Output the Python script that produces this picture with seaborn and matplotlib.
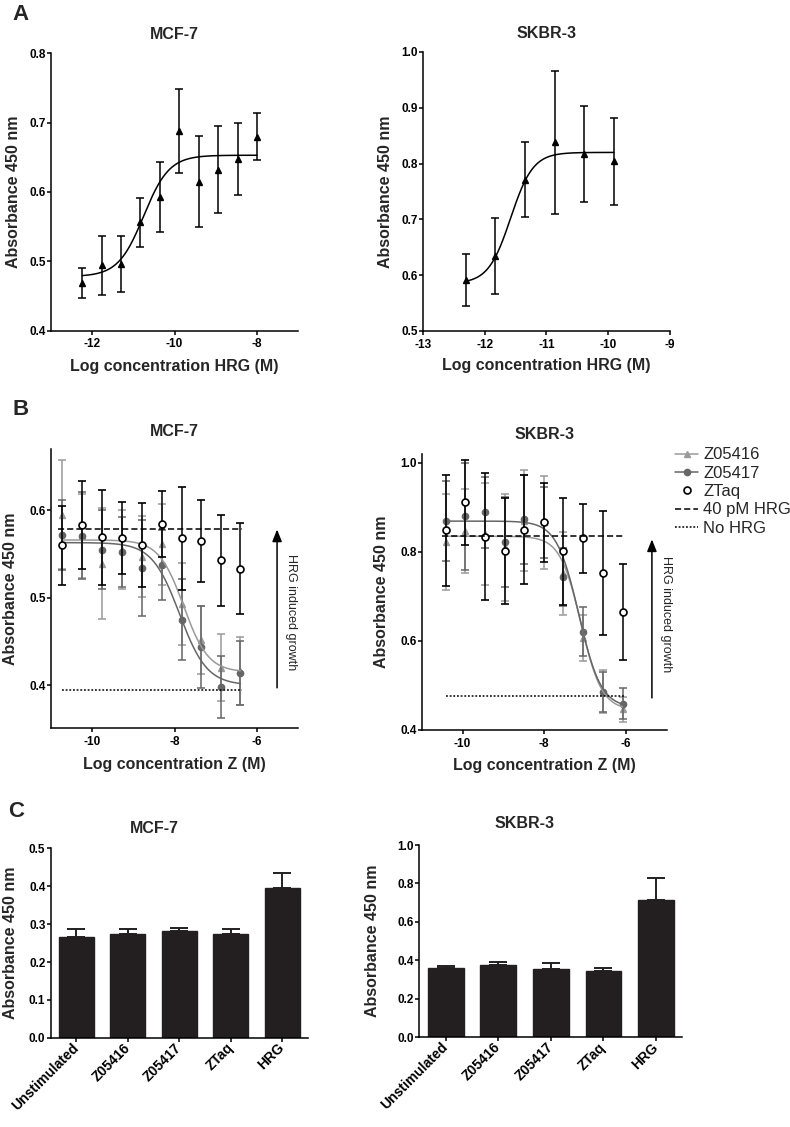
import numpy as np
import pandas as pd
import matplotlib
matplotlib.use("Agg")
import matplotlib.pyplot as plt
from matplotlib.lines import Line2D
from matplotlib.ticker import FormatStrFormatter
import seaborn as sns

# --- values ---
# Panel A: HRG dose response (log M), mean and SEM
a_mcf_logc = [-12.24, -11.77, -11.30, -10.83, -10.36, -9.88, -9.41, -8.94, -8.47, -8.00]
a_mcf_mean = [0.469, 0.494, 0.496, 0.556, 0.593, 0.688, 0.615, 0.632, 0.647, 0.680]
a_mcf_sem = [0.022, 0.042, 0.040, 0.035, 0.050, 0.061, 0.066, 0.063, 0.052, 0.034]
a_mcf_fit = [0.478, 0.653, -10.75, 1.4]          # bottom, top, logEC50, hill

a_sk_logc = [-12.31, -11.83, -11.35, -10.87, -10.39, -9.91]
a_sk_mean = [0.591, 0.634, 0.771, 0.838, 0.818, 0.804]
a_sk_sem = [0.047, 0.068, 0.067, 0.128, 0.086, 0.078]
a_sk_fit = [0.585, 0.820, -11.58, 2.4]

# Panel B: inhibition by Z variants (log M)
b_mcf_logc = [-10.73, -10.24, -9.76, -9.27, -8.79, -8.31, -7.83, -7.35, -6.88, -6.40]
b_mcf_z16 = [0.595, 0.571, 0.539, 0.555, 0.547, 0.561, 0.493, 0.452, 0.420, 0.416]
b_mcf_z16_sem = [0.062, 0.048, 0.063, 0.045, 0.046, 0.046, 0.047, 0.039, 0.038, 0.039]
b_mcf_z17 = [0.572, 0.571, 0.555, 0.552, 0.534, 0.537, 0.475, 0.444, 0.398, 0.414]
b_mcf_z17_sem = [0.040, 0.050, 0.045, 0.040, 0.055, 0.040, 0.046, 0.047, 0.035, 0.037]
b_mcf_taq = [0.560, 0.583, 0.569, 0.568, 0.560, 0.584, 0.568, 0.565, 0.543, 0.533]
b_mcf_taq_sem = [0.045, 0.050, 0.054, 0.041, 0.048, 0.038, 0.059, 0.047, 0.052, 0.052]
b_mcf_z16_fit = [0.415, 0.566, -7.78, 1.45]
b_mcf_z17_fit = [0.400, 0.563, -7.88, 1.3]
b_mcf_hrg = 0.579
b_mcf_nohrg = 0.394

b_sk_logc = [-10.41, -9.94, -9.46, -8.97, -8.49, -8.01, -7.53, -7.04, -6.56, -6.08]
b_sk_z16 = [0.822, 0.847, 0.840, 0.810, 0.870, 0.866, 0.752, 0.607, 0.486, 0.446]
b_sk_z16_sem = [0.108, 0.095, 0.115, 0.120, 0.113, 0.104, 0.093, 0.052, 0.049, 0.028]
b_sk_z17 = [0.870, 0.880, 0.889, 0.822, 0.873, 0.866, 0.743, 0.621, 0.485, 0.459]
b_sk_z17_sem = [0.090, 0.120, 0.080, 0.100, 0.100, 0.080, 0.065, 0.055, 0.045, 0.035]
b_sk_taq = [0.848, 0.911, 0.834, 0.801, 0.850, 0.866, 0.801, 0.830, 0.752, 0.664]
b_sk_taq_sem = [0.124, 0.095, 0.143, 0.119, 0.122, 0.088, 0.120, 0.077, 0.139, 0.108]
b_sk_z16_fit = [0.445, 0.835, -7.10, 1.7]
b_sk_z17_fit = [0.450, 0.869, -7.15, 1.6]
b_sk_hrg = 0.835
b_sk_nohrg = 0.476

# Panel C: single-dose bars
c_groups = ["Unstimulated", "Z05416", "Z05417", "ZTaq", "HRG"]
c_mcf_mean = [0.267, 0.275, 0.283, 0.274, 0.395]
c_mcf_sem = [0.020, 0.012, 0.007, 0.013, 0.039]
c_sk_mean = [0.360, 0.376, 0.355, 0.343, 0.714]
c_sk_sem = [0.013, 0.014, 0.033, 0.019, 0.114]

LIGHT, DARK, BAR = "#9a9a9a", "#666666", "#231f20"

sns.set_theme(style="ticks", rc={
    "axes.linewidth": 1.1, "axes.edgecolor": "black",
    "xtick.color": "black", "ytick.color": "black",
    "xtick.major.width": 1.1, "ytick.major.width": 1.1,
    "xtick.major.size": 3, "ytick.major.size": 3,
    "xtick.major.pad": 2.5, "ytick.major.pad": 0.8,
    "xtick.labelsize": 8.5, "ytick.labelsize": 8.5,
    "axes.labelsize": 11.5, "axes.titlesize": 11.5,
    "axes.labelweight": "bold", "axes.titleweight": "bold",
    "axes.unicode_minus": False,
})
plt.rcParams["font.family"] = ["Liberation Sans", "DejaVu Sans"]
plt.rcParams["font.weight"] = "bold"


def sigmoid(x, p, rising=True):
    bottom, top, logec, h = p
    s = (logec - x) if rising else (x - logec)
    return bottom + (top - bottom) / (1 + 10 ** (s * h))


def curve(ax, logc, p, rising, color, z=2):
    xs = np.linspace(logc[0], logc[-1], 300)
    sns.lineplot(x=xs, y=sigmoid(xs, p, rising), ax=ax, color=color,
                 lw=1.1, zorder=z, estimator=None)


def points(ax, logc, mean, sem, color, marker, ms, z, **kw):
    ax.errorbar(logc, mean, yerr=sem, fmt=marker, color=color, ecolor=color,
                ms=ms, capsize=3, elinewidth=1.1, capthick=1.1, lw=0,
                zorder=z, **kw)


def style(ax, title, pad, ylab_x, xlab_y=None, xlabel=None):
    sns.despine(ax=ax)
    ax.set_title(title, pad=pad)
    ax.set_ylabel("Absorbance 450 nm")
    ax.yaxis.set_label_coords(ylab_x, 0.5)
    if xlabel:
        ax.set_xlabel(xlabel)
        ax.xaxis.set_label_coords(0.5, xlab_y)
    ax.yaxis.set_major_formatter(FormatStrFormatter("%.1f"))


fig = plt.figure(figsize=(7.9, 11.27), dpi=100)

# ---------- A ----------
ax = fig.add_axes([0.0646, 0.7066, 0.3127, 0.2461])
curve(ax, a_mcf_logc, a_mcf_fit, True, "black")
points(ax, a_mcf_logc, a_mcf_mean, a_mcf_sem, "black", "^", 5, 3)
ax.set(xlim=(-13, -7), ylim=(0.4, 0.8), xticks=[-12, -10, -8],
       yticks=[0.4, 0.5, 0.6, 0.7, 0.8])
style(ax, "MCF-7", 10.4, -0.123, -0.103, "Log concentration HRG (M)")

ax = fig.add_axes([0.5354, 0.7063, 0.3127, 0.2476])
curve(ax, a_sk_logc, a_sk_fit, True, "black")
points(ax, a_sk_logc, a_sk_mean, a_sk_sem, "black", "^", 5, 3)
ax.set(xlim=(-13, -9), ylim=(0.5, 1.0), xticks=[-13, -12, -11, -10, -9],
       yticks=[0.5, 0.6, 0.7, 0.8, 0.9, 1.0])
style(ax, "SKBR-3", 10.2, -0.12, -0.095, "Log concentration HRG (M)")

# ---------- B ----------
def panel_b(rect, logc, z16, z16s, z17, z17s, taq, taqs, f16, f17, hrg, nohrg,
            ylim, yticks, title, pad, ylab_x, xlab_y, arrow, text_xy):
    ax = fig.add_axes(rect)
    points(ax, logc, z16, z16s, LIGHT, "^", 4.5, 2)
    points(ax, logc, z17, z17s, DARK, "o", 4.5, 3)
    curve(ax, logc, f16, False, LIGHT, 4)
    curve(ax, logc, f17, False, DARK, 4)
    points(ax, logc, taq, taqs, "black", "o", 5, 5, mfc="white", mec="black",
           mew=1.2)
    ax.hlines(hrg, logc[0] - 0.1, logc[-1] + 0.05, colors="black", lw=1.1,
              linestyles=(0, (4, 2)), zorder=6)
    ax.hlines(nohrg, logc[0], logc[-1] + 0.05, colors="black", lw=1.1,
              linestyles=(0, (1.2, 1.2)), zorder=6)
    ax.annotate("", xy=(arrow[0], arrow[2]), xytext=(arrow[0], arrow[1]),
                arrowprops=dict(arrowstyle="-|>,head_length=0.6,head_width=0.24",
                                color="black", lw=1.1, mutation_scale=12,
                                shrinkA=0, shrinkB=0))
    ax.text(text_xy[0], text_xy[1], "HRG induced growth", rotation=-90,
            ha="center", va="center", fontsize=9, fontweight="normal")
    ax.set(xlim=(-11, -5), ylim=ylim, xticks=[-10, -8, -6], yticks=yticks)
    style(ax, title, pad, ylab_x, xlab_y, "Log concentration Z (M)")
    return ax


panel_b([0.0646, 0.354, 0.3127, 0.2476], b_mcf_logc, b_mcf_z16, b_mcf_z16_sem,
        b_mcf_z17, b_mcf_z17_sem, b_mcf_taq, b_mcf_taq_sem, b_mcf_z16_fit,
        b_mcf_z17_fit, b_mcf_hrg, b_mcf_nohrg, (0.351, 0.670), [0.4, 0.5, 0.6],
        "MCF-7", 9.5, -0.132, -0.105, (-5.51, 0.397, 0.578), (-5.16, 0.483))
panel_b([0.5338, 0.3523, 0.310, 0.2446], b_sk_logc, b_sk_z16, b_sk_z16_sem,
        b_sk_z17, b_sk_z17_sem, b_sk_taq, b_sk_taq_sem, b_sk_z16_fit,
        b_sk_z17_fit, b_sk_hrg, b_sk_nohrg, (0.4, 1.019), [0.4, 0.6, 0.8, 1.0],
        "SKBR-3", 11.2, -0.132, -0.100, (-5.36, 0.472, 0.828), (-5.02, 0.659))

handles = [
    Line2D([], [], color=LIGHT, lw=1.1, marker="^", ms=4.5),
    Line2D([], [], color=DARK, lw=1.1, marker="o", ms=4.5),
    Line2D([], [], ls="none", marker="o", ms=5, mfc="white", mec="black", mew=1.2),
    Line2D([], [], color="black", lw=1.1, ls=(0, (4, 2))),
    Line2D([], [], color="black", lw=1.1, ls=(0, (1.2, 1.2))),
]
fig.legend(handles, ["Z05416", "Z05417", "ZTaq", "40 pM HRG", "No HRG"],
           loc="upper left", bbox_to_anchor=(0.8544, 0.6030), frameon=False,
           prop={"weight": "normal", "size": 12}, handlelength=1.4,
           handletextpad=0.3, labelspacing=0.2, borderpad=0, borderaxespad=0)

# ---------- C ----------
def panel_c(rect, mean, sem, ylim, yticks, title, pad, ylab_x):
    ax = fig.add_axes(rect)
    df = pd.DataFrame({"group": c_groups, "value": mean})
    sns.barplot(data=df, x="group", y="value", color=BAR, saturation=1,
                width=0.68, errorbar=None, edgecolor=BAR, ax=ax)
    ax.errorbar(np.arange(len(c_groups)), mean, yerr=[np.zeros(len(sem)), sem],
                fmt="none", ecolor=BAR, elinewidth=1.4, capsize=6.8,
                capthick=1.4, zorder=3)
    ax.set(ylim=ylim, yticks=yticks, xlim=(-0.5, 4.5))
    ax.set_xlabel("")
    style(ax, "", 0, ylab_x)
    ax.set_title(title, pad=pad, x=0.401)
    plt.setp(ax.get_xticklabels(), rotation=45, ha="right", va="center",
             rotation_mode="anchor", fontsize=10)
    return ax


panel_c([0.0642, 0.0792, 0.3257, 0.168], c_mcf_mean, c_mcf_sem, (0, 0.5),
        [0, 0.1, 0.2, 0.3, 0.4, 0.5], "MCF-7", 11.4, -0.1255)
panel_c([0.5308, 0.0796, 0.333, 0.1706], c_sk_mean, c_sk_sem, (0, 1.0),
        [0, 0.2, 0.4, 0.6, 0.8, 1.0], "SKBR-3", 12.4, -0.149)

for letter, x, y in [("A", 0.0152, 0.9823), ("B", 0.0152, 0.6318),
                     ("C", 0.0101, 0.2751)]:
    fig.text(x, y, letter, fontsize=16, fontweight="bold", ha="left",
             va="baseline")

fig.savefig("out.png", dpi=100)
